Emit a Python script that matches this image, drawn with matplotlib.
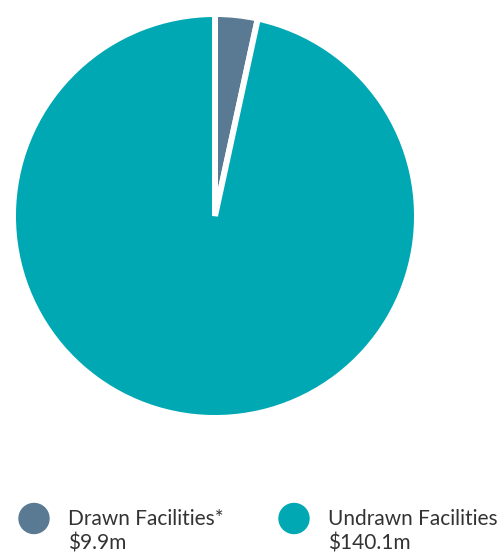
import matplotlib
matplotlib.use("Agg")
import matplotlib.pyplot as plt
from matplotlib.patches import Circle

labels = ["Drawn Facilities*", "Undrawn Facilities"]
value_labels = ["$9.9m", "$140.1m"]
# slice shares as drawn in the reference picture (percent of the circle)
shares = [3.4, 96.6]
colors = ["#5a7a93", "#00a8b4"]

W, H = 497, 553
fig = plt.figure(figsize=(W / 100, H / 100), dpi=100)

cx, cy, r = 215, 216, 202
ax = fig.add_axes([(cx - r) / W, (H - cy - r) / H, 2 * r / W, 2 * r / H])
ax.pie(shares, colors=colors, startangle=90, counterclock=False,
       wedgeprops=dict(edgecolor="white", linewidth=4.3))
ax.set_xlim(-1, 1)
ax.set_ylim(-1, 1)
ax.set_aspect("equal")
ax.axis("off")

lax = fig.add_axes([0, 0, 1, 1])
lax.set_xlim(0, W)
lax.set_ylim(H, 0)
lax.axis("off")
legend_x = [34, 294]
for i in range(2):
    x = legend_x[i]
    lax.add_patch(Circle((x, 518.5), 15, color=colors[i]))
    lax.text(x + 34, 525, labels[i], fontsize=15, family="Lato",
             color="#333333", va="baseline", ha="left")
    lax.text(x + 34, 550, value_labels[i], fontsize=15, family="Lato",
             color="#333333", va="baseline", ha="left")

fig.savefig("out.png", dpi=100)
